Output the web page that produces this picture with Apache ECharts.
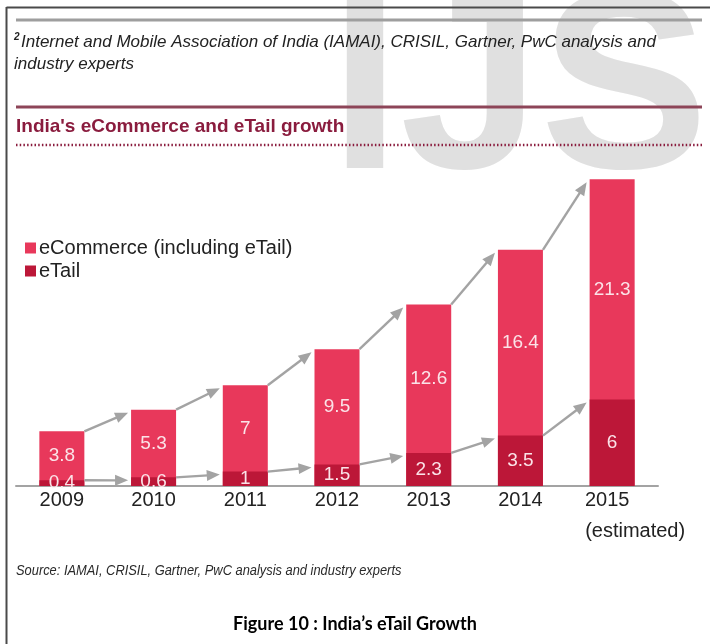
<!DOCTYPE html>
<html>
<head>
<meta charset="utf-8">
<script src="https://cdn.jsdelivr.net/npm/echarts@6/dist/echarts.min.js"></script>
<style>
  html, body { margin: 0; padding: 0; background: #ffffff; }
  #chart { width: 710px; height: 644px; }
</style>
</head>
<body>
<div id="chart"></div>
<script>
// Market size by year (USD billion)
const years = ['2009', '2010', '2011', '2012', '2013', '2014', '2015\n(estimated)'];
const ecommerce = [3.8, 5.3, 7, 9.5, 12.6, 16.4, 21.3];
const etail = [0.4, 0.6, 1, 1.5, 2.3, 3.5, 6];
const seriesNames = ['eCommerce (including eTail)', 'eTail'];

const SANS = 'Arial, Liberation Sans, Helvetica, sans-serif';
const C_ECOM = '#e8385b';
const C_ETAIL = '#bc1738';
const C_ARROW = '#a3a3a3';
const C_VALUE = '#fbe3e8';
const C_MAROON = '#8a1c3e';
const BAR_W = 45;

const chart = echarts.init(document.getElementById('chart'), null, { renderer: 'canvas' });

// [index, value at this year, value at next year] for each year-to-year arrow
function arrowSegments(values) {
  return values.slice(0, -1).map((v, i) => [i, v, values[i + 1]]);
}

// Arrow from the top-right corner of one bar to the top-left corner of the next
function renderArrow(params, api) {
  const i = api.value(0);
  const a = api.coord([i, api.value(1)]);
  const b = api.coord([i + 1, api.value(2)]);
  const half = BAR_W / 2;
  const x0 = a[0] + half, y0 = a[1];
  const x1 = b[0] - half - 3, y1 = b[1] + 3;
  const ang = Math.atan2(y1 - y0, x1 - x0);
  const len = 13, wid = 5.5;
  const bx = x1 - len * Math.cos(ang), by = y1 - len * Math.sin(ang);
  const px = -Math.sin(ang) * wid, py = Math.cos(ang) * wid;
  return {
    type: 'group',
    children: [
      { type: 'line', shape: { x1: x0, y1: y0, x2: bx + Math.cos(ang), y2: by + Math.sin(ang) },
        style: { stroke: C_ARROW, lineWidth: 2.4 } },
      { type: 'polygon', shape: { points: [[x1, y1], [bx + px, by + py], [bx - px, by - py]] },
        style: { fill: C_ARROW } }
    ]
  };
}

// eCommerce value label sits in the middle of the part above the eTail segment
const ecommerceData = ecommerce.map((v, i) => ({
  value: v,
  label: { position: ['50%', ((v - etail[i]) / (2 * v) * 100) + '%'] }
}));

const valueLabel = {
  show: true,
  color: C_VALUE,
  fontFamily: SANS,
  fontSize: 19,
  align: 'center',
  verticalAlign: 'middle'
};

function pageText(text, x, y, extra, props) {
  return Object.assign({
    type: 'text',
    x: x, y: y,
    silent: true,
    z: 10,
    style: Object.assign({
      text: text,
      fill: '#222',
      fontFamily: SANS,
      fontSize: 17,
      textAlign: 'left',
      textVerticalAlign: 'middle'
    }, extra || {})
  }, props || {});
}

const option = {
  animation: false,
  backgroundColor: '#ffffff',
  grid: { left: 16, right: 52, top: 169.2, bottom: 158 },
  legend: {
    data: seriesNames,
    orient: 'vertical',
    left: 20,
    top: 233,
    icon: 'rect',
    itemWidth: 11,
    itemHeight: 11,
    itemGap: 3,
    selectedMode: false,
    textStyle: { fontFamily: SANS, fontSize: 20, color: '#222', padding: [0, 0, 0, -2] }
  },
  xAxis: {
    type: 'category',
    data: years,
    axisLine: { lineStyle: { color: '#a3a3a3', width: 2 } },
    axisTick: { show: false },
    axisLabel: {
      margin: 4,
      color: '#222',
      fontFamily: SANS,
      fontSize: 20,
      interval: 0,
      // two-line label: both lines start at the same left edge
      formatter: function (v) {
        const parts = v.split('\n');
        if (parts.length === 1) return v;
        return '{sp| }{y1|' + parts[0] + '}{pad| }\n{sp2| }{y2|' + parts[1] + '}';
      },
      rich: {
        y1: { fontFamily: SANS, fontSize: 20, color: '#222', lineHeight: 20 },
        y2: { fontFamily: SANS, fontSize: 20, color: '#222', lineHeight: 42 },
        sp: { width: 46, fontSize: 20, lineHeight: 20 },
        sp2: { width: 46, fontSize: 20, lineHeight: 42 },
        pad: { width: 56, fontSize: 20, lineHeight: 20 }
      }
    }
  },
  yAxis: {
    type: 'value',
    min: 0,
    max: 22,
    show: false,
    splitLine: { show: false }
  },
  series: [
    {
      name: seriesNames[0],
      type: 'bar',
      data: ecommerceData,
      barWidth: BAR_W,
      barGap: '-100%',
      itemStyle: { color: C_ECOM },
      label: valueLabel,
      z: 2
    },
    {
      name: seriesNames[1],
      type: 'bar',
      data: etail,
      barWidth: BAR_W,
      barGap: '-100%',
      itemStyle: { color: C_ETAIL },
      label: Object.assign({}, valueLabel, { position: 'inside' }),
      z: 3
    },
    {
      name: 'eCommerce growth',
      type: 'custom',
      renderItem: renderArrow,
      data: arrowSegments(ecommerce),
      encode: { x: 0, y: [1, 2] },
      silent: true,
      z: 4
    },
    {
      name: 'eTail growth',
      type: 'custom',
      renderItem: renderArrow,
      data: arrowSegments(etail),
      encode: { x: 0, y: [1, 2] },
      silent: true,
      z: 4
    }
  ],
  graphic: [
    // background letters
    {
      type: 'text', x: 330, y: 99, z: -10, silent: true,
      style: { text: 'IJS', fill: '#e0e0e0', fontFamily: SANS, fontWeight: 'bold', fontSize: 252,
               textAlign: 'left', textVerticalAlign: 'middle' }
    },
    // page frame
    { type: 'line', z: 10, silent: true, shape: { x1: 6.5, y1: 7.5, x2: 710, y2: 7.5 },
      style: { stroke: '#4a4a4a', lineWidth: 2 } },
    { type: 'line', z: 10, silent: true, shape: { x1: 6.5, y1: 7, x2: 6.5, y2: 644 },
      style: { stroke: '#4a4a4a', lineWidth: 2 } },
    // rules
    { type: 'line', z: 10, silent: true, shape: { x1: 16, y1: 20, x2: 702, y2: 20 },
      style: { stroke: '#9e9e9e', lineWidth: 3 } },
    { type: 'line', z: 10, silent: true, shape: { x1: 16, y1: 107, x2: 702, y2: 107 },
      style: { stroke: '#8d4558', lineWidth: 3 } },
    { type: 'line', z: 10, silent: true, shape: { x1: 16, y1: 145, x2: 702, y2: 145 },
      style: { stroke: C_MAROON, lineWidth: 2.5, lineDash: [1.5, 2.2] } },
    // footnote
    pageText('2', 14, 37, { fontStyle: 'italic', fontWeight: 'bold', fontSize: 10 }),
    pageText('Internet and Mobile Association of India (IAMAI), CRISIL, Gartner, PwC analysis and', 21, 42,
             { fontStyle: 'italic', fontSize: 17 }),
    pageText('industry experts', 14, 64, { fontStyle: 'italic', fontSize: 17 }),
    // chart heading
    pageText("India's eCommerce and eTail growth", 16, 127,
             { fill: C_MAROON, fontWeight: 'bold', fontSize: 19 }),
    // source line (narrowed italic)
    pageText('Source: IAMAI, CRISIL, Gartner, PwC analysis and industry experts', 16, 571,
             { fontStyle: 'italic', fontSize: 15.5, fill: '#2a2a2a' }, { scaleX: 0.83 }),
    // caption
    pageText('Figure 10 : India\u2019s eTail Growth', 355, 624,
             { fontFamily: 'Lato, "Open Sans", sans-serif', fontWeight: 'bold', fontSize: 18,
               textAlign: 'center', fill: '#000' }),
    // trims eTail value text that runs below the baseline
    { type: 'rect', z: 50, silent: true, shape: { x: 16, y: 487.5, width: 642, height: 4.5 },
      style: { fill: '#ffffff' } }
  ]
};

chart.setOption(option);
</script>
</body>
</html>
